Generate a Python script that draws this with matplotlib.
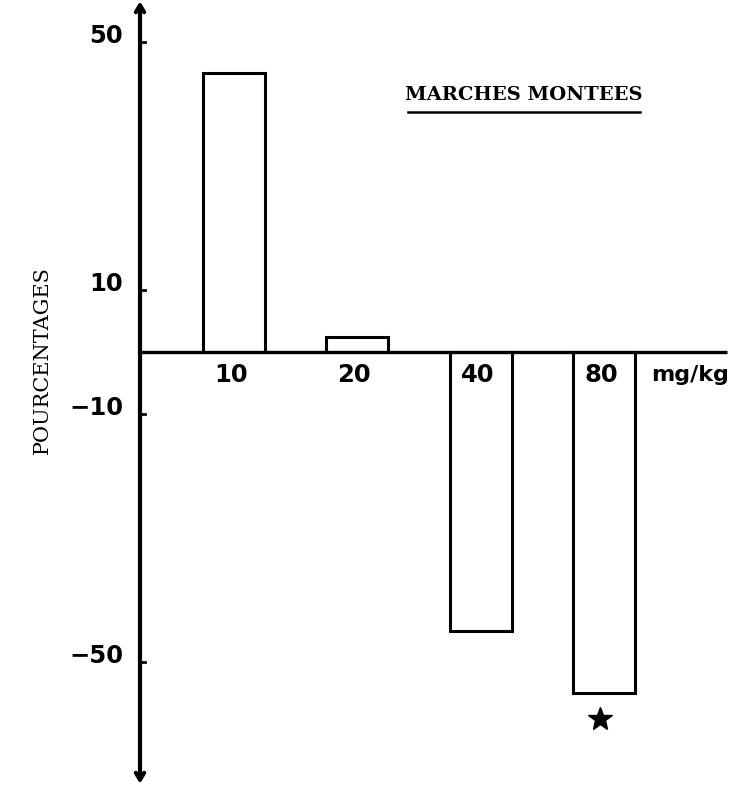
import matplotlib
matplotlib.use("Agg")
import matplotlib.pyplot as plt

# Data
doses = ["10", "20", "40", "80"]
percent_change = [45, 2.5, -45, -55]
y_ticks = [50, 10, -10, -50]
y_tick_labels = ["50", "10", "\u221210", "\u221250"]
significant = [False, False, False, True]

W, H = 745, 785
fig = plt.figure(figsize=(W / 100, H / 100), dpi=100)
ax = fig.add_axes([0, 0, 1, 1])

# scale: category spacing ~123.3 px, 6.2 px per unit, zero at y=352 px, first category at x=234 px
sx, x0 = 123.3, 234.0
sy, y0 = 6.2, 352.0
ax.set_xlim(-x0 / sx, (W - x0) / sx)
ax.set_ylim(-(H - y0) / sy, y0 / sy)

xpos = list(range(len(doses)))
ax.bar(xpos, percent_change, width=0.503, facecolor="white", edgecolor="black",
       linewidth=2.2, zorder=3)

yaxis_x = (140 - x0) / sx
xend = (727 - x0) / sx

# y axis with arrows at both ends
ax.annotate("", xy=(yaxis_x, y0 / sy - 0.2), xytext=(yaxis_x, -(H - y0) / sy + 0.2),
            arrowprops=dict(arrowstyle="<->,head_length=0.5,head_width=0.3", lw=3.0,
                            color="black", shrinkA=0, shrinkB=0), zorder=5)
# zero line
ax.plot([yaxis_x, xend], [0, 0], color="black", lw=2.4, zorder=4, solid_capstyle="butt")

for s in ax.spines.values():
    s.set_visible(False)

tick_font = dict(fontsize=17.5, family="DejaVu Sans", fontweight="bold")

# y ticks (tick marks drawn to the right of the axis)
for v, lab in zip(y_ticks, y_tick_labels):
    ax.plot([yaxis_x, yaxis_x + 5 / sx], [v, v], color="black", lw=2, zorder=5)
    ax.text(yaxis_x - 17 / sx, v + 0.9, lab, ha="right", va="center", **tick_font)

ax.set_xticks([])
ax.set_yticks([])

# category labels
for x, lab in zip(xpos, doses):
    ax.text(x - 3 / sx, -23 / sy, lab, ha="center", va="center", **tick_font)
ax.text((690 - x0) / sx, -23 / sy, "mg/kg", ha="center", va="center", fontsize=16,
        family="DejaVu Sans", fontweight="bold")

# significance star
for x, v, sig in zip(xpos, percent_change, significant):
    if sig:
        ax.plot(x - 4 / sx, v - 4.2, marker="*", color="black", markersize=18, zorder=5)

# title with underline
ax.text(524 / W, 1 - 95 / H, "MARCHES MONTEES", transform=ax.transAxes, ha="center",
        va="center", fontsize=14, family="DejaVu Serif", fontweight="bold")
ax.plot([408 / W, 640 / W], [1 - 112 / H, 1 - 112 / H], transform=ax.transAxes,
        color="black", lw=1.8)

# y label
ax.text(42 / W, 1 - 360 / H, "POURCENTAGES", transform=ax.transAxes, rotation=90,
        ha="center", va="center", fontsize=15, family="DejaVu Serif")

fig.savefig("out.png", dpi=100)
